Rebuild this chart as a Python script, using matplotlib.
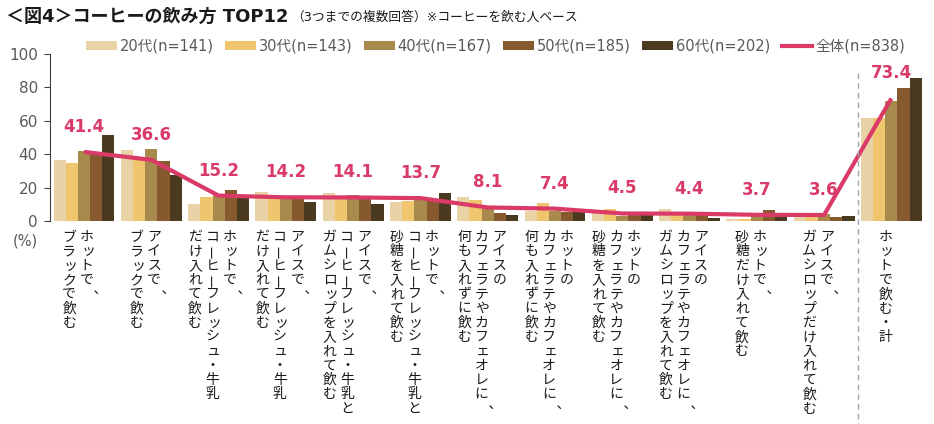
import numpy as np
import matplotlib
matplotlib.use("Agg")
import matplotlib.pyplot as plt
import matplotlib.transforms as mtransforms
from matplotlib.patches import Patch
from matplotlib.lines import Line2D

plt.rcParams['font.family'] = ['DejaVu Sans', 'Noto Sans CJK JP']

# データ
categories = [
    "ホットで、\nブラックで飲む",
    "アイスで、\nブラックで飲む",
    "ホットで、\nコーヒーフレッシュ・牛乳\nだけ入れて飲む",
    "アイスで、\nコーヒーフレッシュ・牛乳\nだけ入れて飲む",
    "アイスで、\nコーヒーフレッシュ・牛乳と\nガムシロップを入れて飲む",
    "ホットで、\nコーヒーフレッシュ・牛乳と\n砂糖を入れて飲む",
    "アイスの\nカフェラテやカフェオレに、\n何も入れずに飲む",
    "ホットの\nカフェラテやカフェオレに、\n何も入れずに飲む",
    "ホットの\nカフェラテやカフェオレに、\n砂糖を入れて飲む",
    "アイスの\nカフェラテやカフェオレに、\nガムシロップを入れて飲む",
    "ホットで、\n砂糖だけ入れて飲む",
    "アイスで、\nガムシロップだけ入れて飲む",
    "ホットで飲む・計",
]
series_names = ["20代(n=141)", "30代(n=143)", "40代(n=167)", "50代(n=185)", "60代(n=202)"]
age20 = [36.3, 42.7, 10.0, 17.2, 17.0, 11.2, 14.2, 5.8, 5.4, 7.2, 1.2, 3.0, 61.9]
age30 = [34.5, 37.0, 14.6, 14.2, 15.0, 12.2, 12.6, 10.8, 7.0, 4.8, 1.2, 3.0, 61.9]
age40 = [41.9, 43.3, 15.6, 13.8, 15.6, 13.6, 7.0, 6.2, 2.8, 4.2, 3.6, 4.0, 72.0]
age50 = [40.0, 35.7, 18.4, 13.8, 15.2, 13.2, 4.6, 5.2, 3.6, 4.0, 6.6, 2.6, 79.4]
age60 = [51.7, 27.7, 14.0, 11.4, 10.4, 16.8, 3.8, 5.6, 3.4, 2.0, 2.8, 2.8, 85.8]
total_name = "全体(n=838)"
total = [41.4, 36.6, 15.2, 14.2, 14.1, 13.7, 8.1, 7.4, 4.5, 4.4, 3.7, 3.6, 73.4]

colors = ['#E8D2A6', '#EFC56E', '#A78A4C', '#87592F', '#4A3A1F']
line_color = '#D93A68'
gray = '#595959'

W, H = 934, 424
fig = plt.figure(figsize=(W / 100, H / 100), dpi=100)
# 軸の位置 (ピクセル基準)
ax = fig.add_axes([50.4 / W, (H - 221) / H, 874.6 / W, 167 / H])

x = np.arange(len(categories))
bw = 0.181
all_series = [age20, age30, age40, age50, age60]
for k, vals in enumerate(all_series):
    ax.bar(x + (k - 2) * bw, vals, width=bw, color=colors[k], zorder=2)

ax.plot(x, total, color=line_color, lw=3, zorder=3, solid_capstyle='butt')
for xi, v in zip(x, total):
    ax.annotate(f"{v:.1f}", (xi, v), xytext=(0, 18), textcoords='offset points',
                ha='center', va='center', color=line_color, fontsize=12,
                fontweight='bold', zorder=4, annotation_clip=False)

ax.set_xlim(-0.5, len(categories) - 0.5)
ax.set_ylim(0, 100)
ax.set_yticks(range(0, 101, 20))
ax.set_xticks([])
for s in ['top', 'right', 'bottom']:
    ax.spines[s].set_visible(False)
ax.spines['left'].set_color('#404040')
ax.tick_params(axis='y', colors=gray, labelsize=11, length=4, pad=5, direction='out')
ax.tick_params(axis='y', color='#404040')

# 区切りの点線
sep = Line2D([11.5, 11.5], [(H - 73) / H, 0],
             transform=mtransforms.blended_transform_factory(ax.transData, fig.transFigure),
             color='#A6A6A6', lw=1, dashes=(4, 3), clip_on=False)
fig.add_artist(sep)

fig.text(25 / W, (H - 241) / H, "(%)", ha='center', va='center', color=gray, fontsize=10.5)

# 縦書きラベル
small = set("ッュェャョィァォ")
ident = mtransforms.IdentityTransform()
pitch = 14.3
colgap = 17.5
for i, label in enumerate(categories):
    cols = label.split("\n")
    n = len(cols)
    cx = ax.transData.transform((i, 0))[0]
    for k, col in enumerate(cols):
        colx = cx + (n - 1) / 2 * colgap - k * colgap - 6
        for j, ch in enumerate(col):
            px = colx
            py = H - (237 + j * pitch)
            rot = 0
            if ch == "ー":
                rot = 90
            elif ch == "、":
                rot = 180
                px += 5
            elif ch in small:
                px += 1.5
            fig.text(px, py, ch, transform=ident, ha='center', va='center',
                     rotation=rot, fontsize=10, color='#1a1a1a',
                     family=['Noto Sans CJK JP'])

# 凡例
handles = [Patch(facecolor=c) for c in colors] + [Line2D([], [], color=line_color, lw=3)]
fig.legend(handles, series_names + [total_name], loc='center',
           bbox_to_anchor=(495.5 / W, (H - 46) / H), ncol=6, frameon=False,
           fontsize=10.5, handlelength=2.1, handleheight=0.55, handletextpad=0.2,
           columnspacing=0.8, labelcolor=gray, borderpad=0, borderaxespad=0)

# タイトル
title = fig.text(6 / W, (H - 17) / H, "＜図4＞コーヒーの飲み方 TOP12", ha='left', va='center',
                 fontsize=13, fontweight='bold', color='#1a1a1a')
renderer = fig.canvas.get_renderer()
tx = title.get_window_extent(renderer).x1
fig.text(tx + 3, H - 17, "（3つまでの複数回答）※コーヒーを飲む人ベース", transform=ident,
         ha='left', va='center', fontsize=9.2, color='#1a1a1a')

fig.savefig("out.png", dpi=100)
